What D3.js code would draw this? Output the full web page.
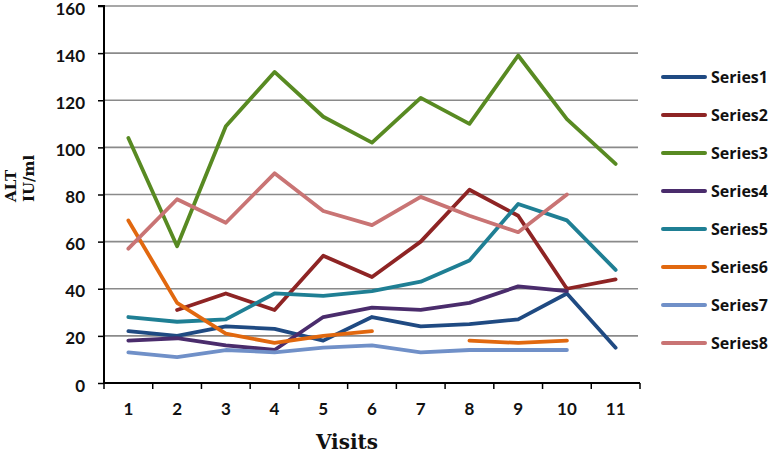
<!DOCTYPE html>
<html><head><meta charset="utf-8">
<script src="https://cdn.jsdelivr.net/npm/d3@7"></script>
<style>body{margin:0;background:#fff;} svg{display:block;}</style>
</head><body>
<svg id="c" width="774" height="453"></svg>
<script>
const visits = [1,2,3,4,5,6,7,8,9,10,11];
const yTicks = [0,20,40,60,80,100,120,140,160];
const seriesNames = ["Series1","Series2","Series3","Series4","Series5","Series6","Series7","Series8"];
const seriesColors = ["#1f4a82","#8e2424","#588a22","#4a2c6c","#1f7f94","#e1680f","#7090c8","#c97474"];
const series1 = [22,20,24,23,18,28,24,25,27,38,15];
const series2 = [null,31,38,31,54,45,60,82,71,40,44];
const series3 = [104,58,109,132,113,102,121,110,139,112,93];
const series4 = [18,19,16,14,28,32,31,34,41,39,null];
const series5 = [28,26,27,38,37,39,43,52,76,69,48];
const series6 = [69,34,21,17,20,22,null,18,17,18,null];
const series7 = [13,11,14,13,15,16,13,14,14,14,null];
const series8 = [57,78,68,89,73,67,79,71,64,80,null];
const allSeries = [series1,series2,series3,series4,series5,series6,series7,series8];

(function(){
const svg = d3.select("#c");
const pL = 104, pR = 640, pT = 6, pB = 383;
const x = d3.scaleBand().domain(visits).range([pL, pR]);
const y = d3.scaleLinear().domain([0,160]).range([pB, pT]);

// gridlines
svg.append("g").selectAll("line").data(yTicks.filter(d=>d>0)).join("line")
  .attr("x1", pL).attr("x2", pR-2).attr("y1", d=>y(d)).attr("y2", d=>y(d))
  .attr("stroke", "#8a8a8a").attr("stroke-width", 1.6);

// axes
const yAxis = d3.axisLeft(y).tickValues(yTicks).tickSize(6).tickPadding(13);
const gy = svg.append("g").attr("transform", `translate(${pL},0)`).call(yAxis);
gy.select(".domain").attr("stroke","#000").attr("stroke-width",2).attr("d", `M-6,${pT}H0V${pB}`);
gy.selectAll(".tick line").attr("stroke","#000").attr("stroke-width",1.5);
gy.selectAll(".tick text").attr("font-family","Lato, 'Open Sans', sans-serif").attr("font-weight","700")
  .attr("font-size","17px").attr("fill","#111").attr("dy","0.47em");

const xAxis = d3.axisBottom(x).tickSize(0).tickPadding(20);
const gx = svg.append("g").attr("transform", `translate(0,${pB})`).call(xAxis);
gx.select(".domain").attr("stroke","#000").attr("stroke-width",2).attr("d", `M${pL},0H${pR}`);
gx.selectAll(".tick text").attr("font-family","Lato, 'Open Sans', sans-serif").attr("font-weight","700")
  .attr("font-size","17px").attr("fill","#111");
const bounds = visits.map(v => x(v)).concat([pR]);
svg.append("g").selectAll("line").data(bounds).join("line")
  .attr("x1", d=>d).attr("x2", d=>d).attr("y1", pB).attr("y2", pB+6)
  .attr("stroke","#000").attr("stroke-width",1.5);

// lines
const line = d3.line()
  .defined(d => d.v !== null)
  .x(d => x(d.k) + x.bandwidth()/2)
  .y(d => y(d.v));
svg.append("g").selectAll("path").data(allSeries).join("path")
  .attr("d", s => line(s.map((v,i)=>({k:visits[i], v}))))
  .attr("fill","none")
  .attr("stroke", (s,i)=>seriesColors[i])
  .attr("stroke-width", 3.8)
  .attr("stroke-linejoin","round")
  .attr("stroke-linecap","round");

// legend
const lg = svg.append("g").selectAll("g").data(seriesNames).join("g")
  .attr("transform", (d,i)=>`translate(663,${77 + i*38})`);
lg.append("line").attr("x1",0).attr("x2",42).attr("y1",0).attr("y2",0)
  .attr("stroke",(d,i)=>seriesColors[i]).attr("stroke-width",4).attr("stroke-linecap","round");
lg.append("text").attr("x",48).attr("y",5.5).text(d=>d)
  .attr("font-family","'Open Sans', Lato, sans-serif").attr("font-weight","700")
  .attr("font-size","16px").attr("fill","#111");

// axis titles
svg.append("text").attr("x",347).attr("y",449).attr("text-anchor","middle")
  .attr("font-family","'DejaVu Serif', serif").attr("font-weight","700").attr("font-size","20px")
  .attr("fill","#111").text("Visits");
svg.append("text").attr("transform","translate(16,202) rotate(-90)").attr("text-anchor","start")
  .attr("font-family","'DejaVu Serif', serif").attr("font-weight","700").attr("font-size","15px")
  .attr("fill","#111").text("ALT");
svg.append("text").attr("transform","translate(34,202) rotate(-90)").attr("text-anchor","start")
  .attr("font-family","'DejaVu Serif', serif").attr("font-weight","700").attr("font-size","15px")
  .attr("fill","#111").text("IU/ml");
})();
</script>
</body></html>
